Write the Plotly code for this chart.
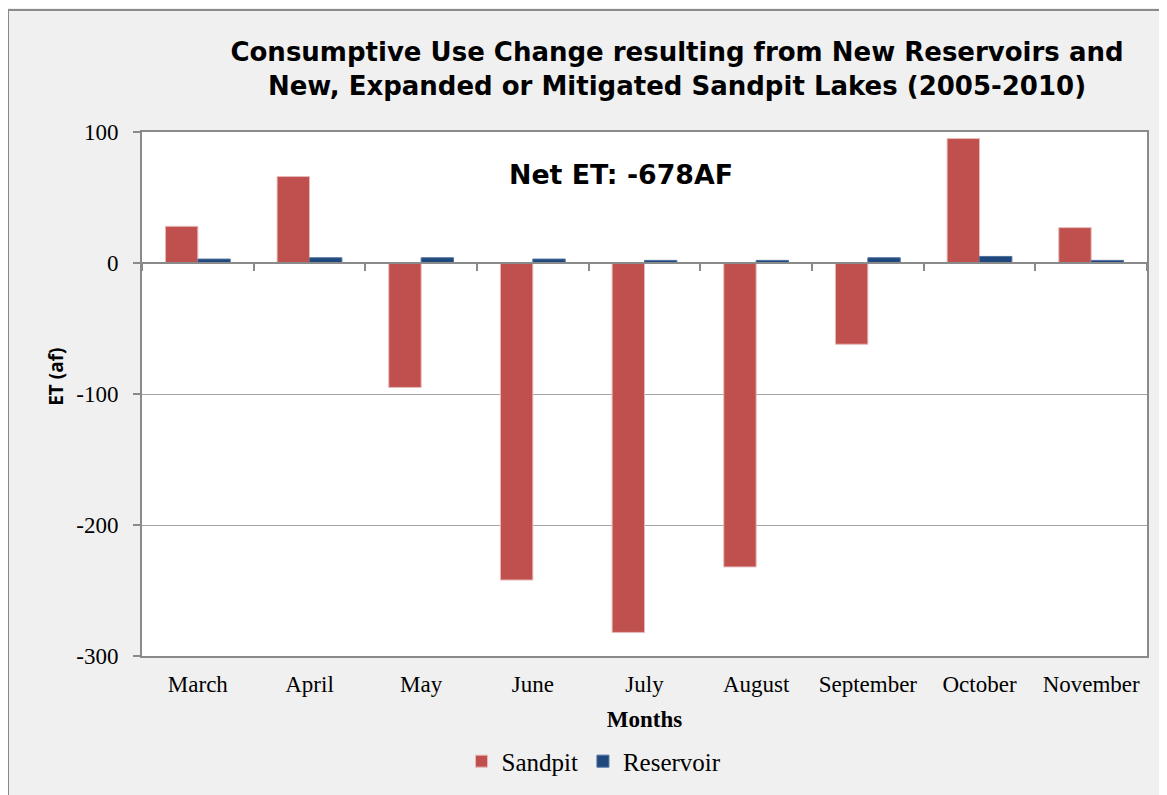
import plotly.graph_objects as go

months = ["March", "April", "May", "June", "July", "August", "September", "October", "November"]
sandpit = [28, 66, -95, -242, -282, -232, -62, 95, 27]
reservoir = [3, 4, 4, 3, 2, 2, 4, 5, 2]
series_names = ["Sandpit", "Reservoir"]

y_min, y_max = -300, 100
y_ticks = [100, 0, -100, -200, -300]

title_text = ("Consumptive Use Change resulting from New Reservoirs and<br>"
              "New, Expanded or Mitigated Sandpit Lakes (2005-2010)")
net_text = "Net ET: -678AF"
y_title = "ET (af)"

GRAY = "#8a8a8a"
SERIF = "Liberation Serif"
SANS_WIDE = "DejaVu Sans"
SANS = "Open Sans"

fig = go.Figure()
fig.add_trace(go.Bar(x=months, y=sandpit, name=series_names[0],
                     marker=dict(color="#C0504D", line=dict(color="#E6B9B8", width=1))))
fig.add_trace(go.Bar(x=months, y=reservoir, name=series_names[1],
                     marker=dict(color="#1F497D", line=dict(color="#4F6F9F", width=1))))
# helper trace for the zero-line category axis (ticks at boundaries)
fig.add_trace(go.Scatter(x=months, y=[0] * len(months), xaxis="x2", mode="none",
                         showlegend=False, hoverinfo="skip"))

zero_frac = (0 - y_min) / (y_max - y_min)

# page body has an 8px margin: screen coordinate = figure coordinate + 8
OFF = 8
W, H = 1167, 795
PL, PT, PR, PB = 142, 132, 1147, 656.5   # plot area in screen pixels
L, T = PL - OFF, PT - OFF
R = W - (PR - OFF)
B = H - (PB - OFF)
pw, ph = W - L - R, H - T - B

def sx(px):
    return (px - OFF - L) / pw

def sy(py):
    return (H - B - (py - OFF)) / ph

fig.update_layout(
    width=W, height=H,
    margin=dict(l=L, r=R, t=T, b=B),
    font=dict(family=SERIF, color="black"),
    paper_bgcolor="#f0f0f0",
    plot_bgcolor="white",
    barmode="group",
    bargap=0.42,
    bargroupgap=0,
    title=dict(text=title_text, x=(677 - OFF) / W, xref="container", xanchor="center",
               y=1 - (61 - OFF) / H, yref="container", yanchor="middle",
               font=dict(family=SANS_WIDE, size=26, color="black", weight="bold")),
    xaxis=dict(type="category", categoryarray=months, range=[-0.5, len(months) - 0.5],
               showline=True, mirror=True, linecolor=GRAY, linewidth=2,
               ticks="", showgrid=False, zeroline=False,
               tickfont=dict(family=SERIF, size=23, color="black"),
               ticklabelstandoff=6,
               title=dict(text="Months", standoff=15,
                          font=dict(family=SERIF, size=23, color="black", weight="bold"))),
    xaxis2=dict(type="category", categoryarray=months, range=[-0.5, len(months) - 0.5],
                overlaying="x", anchor="free", position=zero_frac,
                showline=True, linecolor=GRAY, linewidth=2,
                ticks="outside", ticklen=7, tickcolor=GRAY, tickwidth=2,
                tickson="boundaries", showticklabels=False, showgrid=False, zeroline=False),
    yaxis=dict(range=[y_min, y_max], tickvals=y_ticks, ticktext=[str(v) for v in y_ticks],
               showline=True, mirror=True, linecolor=GRAY, linewidth=2,
               ticks="outside", ticklen=7, tickcolor=GRAY, tickwidth=2,
               showgrid=True, gridcolor="#a6a6a6", gridwidth=1, zeroline=False,
               tickfont=dict(family=SERIF, size=23, color="black"),
               ticklabelstandoff=10),
    legend=dict(orientation="h", x=sx(594), xanchor="center",
                y=sy(762), yanchor="middle",
                font=dict(family=SERIF, size=25, color="black"),
                bgcolor="rgba(0,0,0,0)", itemwidth=30, tracegroupgap=0),
    showlegend=True,
    annotations=[
        dict(text=net_text, xref="paper", yref="paper",
             x=sx(621), y=sy(175), xanchor="center", yanchor="middle", showarrow=False,
             font=dict(family=SANS_WIDE, size=26.8, color="black", weight="bold")),
        dict(text=y_title, xref="paper", yref="paper", textangle=-90,
             x=sx(56), y=sy(377), xanchor="center", yanchor="middle", showarrow=False,
             font=dict(family=SANS, size=19, color="black", weight="bold")),
    ],
    shapes=[
        # chart frame
        dict(type="rect", xref="paper", yref="paper",
             x0=sx(OFF), x1=sx(1200), y0=sy(830), y1=sy(10),
             fillcolor="rgba(0,0,0,0)", line=dict(color=GRAY, width=2), layer="below"),
    ],
)

fig.write_html("out.html")
